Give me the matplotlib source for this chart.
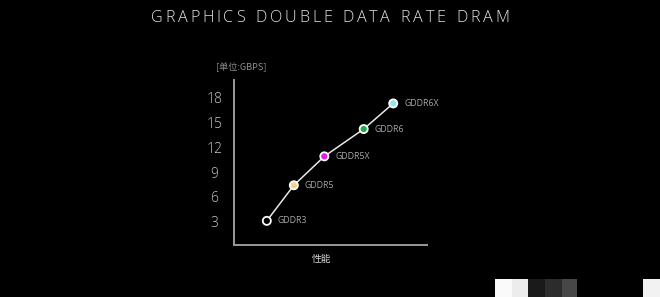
import matplotlib
matplotlib.use("Agg")
import matplotlib.pyplot as plt
from matplotlib.font_manager import FontProperties
from matplotlib.patches import Rectangle

# Memory generations, relative performance (x) and data rate in Gbps (y)
generations = ["GDDR3", "GDDR5", "GDDR5X", "GDDR6", "GDDR6X"]
performance = [1.7, 3.1, 4.68, 6.72, 8.25]
data_rate = [3.1, 7.4, 10.9, 14.2, 17.3]
marker_colors = ["#000000", "#efd38f", "#e01ee6", "#1faa4a", "#8ee8ea"]
y_ticks = [3, 6, 9, 12, 15, 18]

title = "GRAPHICS DOUBLE DATA RATE DRAM"
unit_label = "[单位:GBPS]"
x_label = "性能"

W, H, DPI = 660, 297, 100
fig = plt.figure(figsize=(W / DPI, H / DPI), dpi=DPI, facecolor="black")

def px(x, y):
    return x / W, 1 - y / H

ax = fig.add_axes([234 / W, 1 - 245 / H, (427 - 234) / W, (245 - 80) / H])
ax.set_facecolor("black")
ax.set_xlim(0, 10)
ax.set_ylim(0.18, 20.13)
for side in ("top", "right"):
    ax.spines[side].set_visible(False)
for side in ("left", "bottom"):
    ax.spines[side].set_color("#9a9a9a")
    ax.spines[side].set_linewidth(1.4)
ax.set_xticks([])
ax.set_yticks(y_ticks)
ax.tick_params(axis="y", length=0, pad=14, colors="#c8c8c8", labelsize=10)
for lbl in ax.get_yticklabels():
    lbl.set_fontfamily("Open Sans")
    lbl.set_fontweight("light")
    lbl.set_horizontalalignment("center")

ax.plot(performance, data_rate, color="#e8e8e8", lw=1.1, zorder=2)
ax.scatter(performance, data_rate, s=34, c=marker_colors, edgecolors="white",
           linewidths=1.3, zorder=3)
for gx, gy, name in zip(performance, data_rate, generations):
    ax.annotate(name, (gx, gy), xytext=(8, 0), textcoords="offset points",
                va="center", ha="left", fontsize=6.3, color="#a8a8a8",
                family="Open Sans")

cjk = ["Noto Sans CJK SC", "DejaVu Sans"]
fig.text(*px(216, 67.5), unit_label, fontsize=6.6, color="#8c8c8c",
         family=cjk, ha="left", va="center")
fig.text(*px(322, 259), x_label, fontsize=7, color="#d4d4d4",
         family=cjk, ha="center", va="center")

# Letter-spaced title
tprop = FontProperties(family="Open Sans", weight="light", size=11.6)
renderer = fig.canvas.get_renderer()
widths = []
for ch in title:
    w, h, d = renderer.get_text_width_height_descent(ch if ch != " " else "n", tprop, ismath=False)
    widths.append(w * (0.55 if ch == " " else 1.0))
left, right = 151, 509
track = (right - left - sum(widths)) / (len(title) - 1)
x = left
for ch, w in zip(title, widths):
    if ch != " ":
        fig.text(*px(x, 22.5), ch, fontproperties=tprop, color="#e2e2e2",
                 ha="left", va="baseline")
    x += w + track

# Gray blocks along the lower-right edge
blocks = [(495, 512, "#fafafa"), (512, 528, "#ececec"), (528, 545, "#1a1a1a"),
          (545, 562, "#2c2c2c"), (562, 577, "#474747"), (643, 660, "#f2f2f2")]
for x0, x1, col in blocks:
    fig.patches.append(Rectangle(px(x0, 297), (x1 - x0) / W, 18 / H,
                                 transform=fig.transFigure, color=col, lw=0))

fig.savefig("out.png", dpi=DPI, facecolor="black")
